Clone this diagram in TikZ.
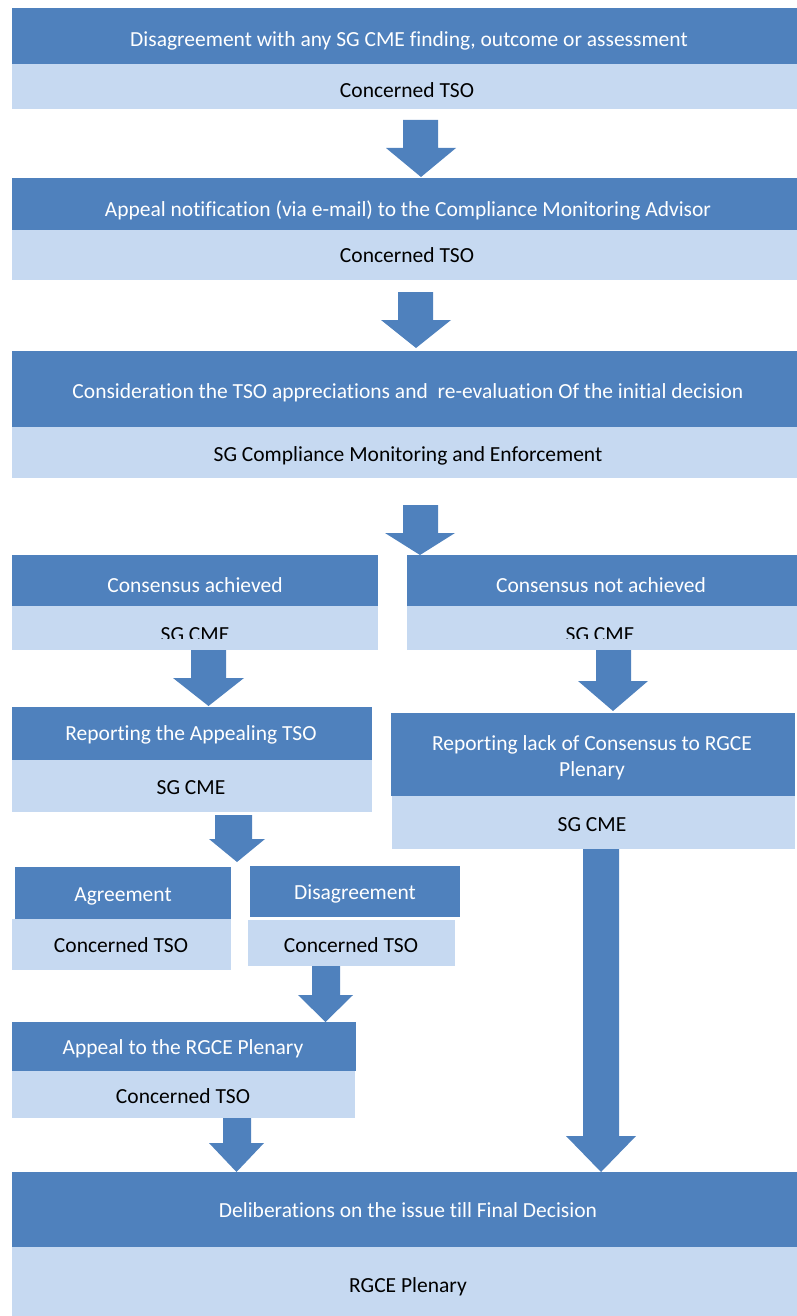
\documentclass[tikz,border=0pt]{standalone}
\usepackage{fontspec}
\setmainfont{Carlito}[Ligatures=NoCommon]
\definecolor{dk}{HTML}{4F81BD}
\definecolor{lt}{HTML}{C6D9F1}
\tikzset{
  band/.style={inner sep=0pt, outer sep=0pt, anchor=north west, draw=none},
  dkband/.style={band, fill=dk},
  ltband/.style={band, fill=lt},
  lbl/.style={inner sep=0pt, yshift=-4pt, text height=0.85em, text depth=0.2em, font=\fontsize{21.5}{26}\selectfont},
  wlbl/.style={lbl, text=white},
  blbl/.style={lbl, text=black},
  blockarrow/.style={fill=dk, draw=none},
}
% \bandbox{name}{style}{x1}{y1}{x2}{y2}
\newcommand\bandbox[6]{\node[#2, minimum width={#5pt-#3pt}, minimum height={#6pt-#4pt}] (#1) at (#3,-#4) {};}
% \blockarr{shaft left}{shaft right}{top}{head start}{head left}{head right}{tip}
\newcommand\blockarr[7]{\fill[blockarrow] (#1,-#3) -- (#2,-#3) -- (#2,-#4) -- (#6,-#4) -- ({(#5+#6)/2},-#7) -- (#5,-#4) -- (#1,-#4) -- cycle;}
\begin{document}
\begin{tikzpicture}[x=1pt, y=1pt]
\useasboundingbox (0,0) rectangle (797,-1316);
% stage 1
\bandbox{b1d}{dkband}{12}{8}{797}{64}
\bandbox{b1l}{ltband}{12}{64}{797}{109}
\node[wlbl] (t1d) at (409,-39) {Disagreement with any SG CME finding, outcome or assessment};
\node[blbl] (t1l) at (407,-90) {Concerned TSO};
% stage 2
\bandbox{b2d}{dkband}{12}{178}{797}{230}
\bandbox{b2l}{ltband}{12}{230}{797}{280}
\node[wlbl] (t2d) at (408,-209) {Appeal notification (via e-mail) to the Compliance Monitoring Advisor};
\node[blbl] (t2l) at (407,-255) {Concerned TSO};
% stage 3
\bandbox{b3d}{dkband}{12}{351}{797}{427}
\bandbox{b3l}{ltband}{12}{427}{797}{478}
\node[wlbl] (t3d) at (408,-391) {Consideration the TSO appreciations and \ re-evaluation Of the initial decision};
\node[blbl] (t3l) at (408,-454) {SG Compliance Monitoring and Enforcement};
% consensus achieved / not achieved
\bandbox{cad}{dkband}{12}{555}{378}{606}
\bandbox{cal}{ltband}{12}{606}{378}{650}
\node[wlbl] (tcad) at (195,-585) {Consensus achieved};
\bandbox{cnd}{dkband}{407}{555}{797}{606}
\bandbox{cnl}{ltband}{407}{606}{797}{650}
\node[wlbl] (tcnd) at (601,-585) {Consensus not achieved};
\begin{scope}
  \clip (12,-606) rectangle (797,-638.5);
  \node[blbl] (tcal) at (195,-634) {SG CME};
  \node[blbl] (tcnl) at (600,-634) {SG CME};
\end{scope}
% reporting the appealing TSO
\bandbox{rad}{dkband}{12}{707}{372}{760}
\bandbox{ral}{ltband}{12}{760}{372}{812}
\node[wlbl] (trad) at (191,-733) {Reporting the Appealing TSO};
\node[blbl] (tral) at (191,-787) {SG CME};
% reporting lack of consensus
\bandbox{rld}{dkband}{391}{713}{795}{796}
\bandbox{rll}{ltband}{392}{796}{795}{849}
\node[wlbl] (trd1) at (592,-743.5) {Reporting lack of Consensus to RGCE};
\node[wlbl] (trd2) at (592,-769.5) {Plenary};
\node[blbl] (trl) at (592,-824) {SG CME};
% agreement / disagreement
\bandbox{agd}{dkband}{15}{867}{231}{919}
\bandbox{agl}{ltband}{12}{919}{231}{970}
\node[wlbl] (tagd) at (123,-894) {Agreement};
\node[blbl] (tagl) at (121,-945) {Concerned TSO};
\bandbox{dad}{dkband}{250}{866}{460}{917}
\bandbox{dal}{ltband}{248}{920}{455}{966}
\node[wlbl] (tdad) at (355,-892) {Disagreement};
\node[blbl] (tdal) at (351,-945) {Concerned TSO};
% appeal to RGCE plenary
\bandbox{apd}{dkband}{12}{1022}{356}{1071}
\bandbox{apl}{ltband}{12}{1071}{355}{1118}
\node[wlbl] (tapd) at (183,-1047) {Appeal to the RGCE Plenary};
\node[blbl] (tapl) at (183,-1096) {Concerned TSO};
% final
\bandbox{fnd}{dkband}{12}{1172}{797}{1247}
\bandbox{fnl}{ltband}{12}{1247}{797}{1316}
\node[wlbl] (tfnd) at (408,-1210) {Deliberations on the issue till Final Decision};
\node[blbl] (tfnl) at (408,-1285) {RGCE Plenary};
% block arrows
\blockarr{403}{438}{120}{148}{386}{456}{177}
\blockarr{398}{433}{292}{320}{381}{451}{348}
\blockarr{403}{438}{505}{533}{385}{455}{555}
\blockarr{191}{226}{650}{678}{173}{244}{706}
\blockarr{596}{631}{650}{681}{578}{648}{711}
\blockarr{215}{252}{815}{839}{209}{265}{862}
\blockarr{312}{340}{966}{995}{298}{353}{1022}
\blockarr{223}{251}{1118}{1143}{209}{264}{1172}
\blockarr{583}{619}{849}{1136}{566}{636}{1172}
\end{tikzpicture}
\end{document}
